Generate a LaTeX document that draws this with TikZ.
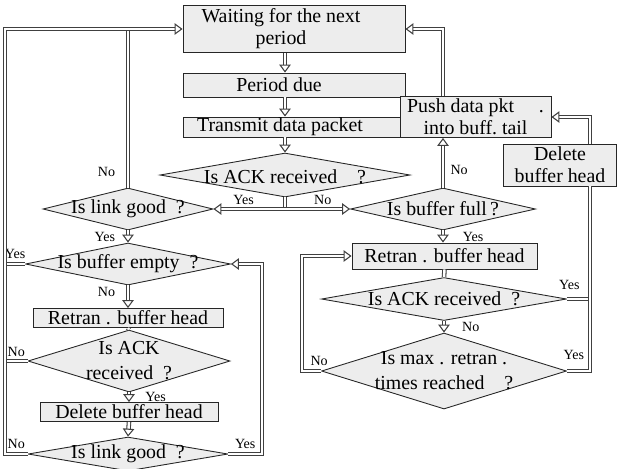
\documentclass[tikz,border=0pt]{standalone}
\usepackage{fontspec}
\setmainfont{Liberation Serif}
\usetikzlibrary{arrows.meta, positioning, shapes.geometric, calc}

\newcommand{\pxu}{0.02cm}
\newcommand{\boxfont}{\fontsize{11.3}{12.6}\selectfont}
\newcommand{\labfont}{\fontsize{8}{9}\selectfont}

\begin{document}
\begin{tikzpicture}[
  x=0.02cm, y=-0.02cm,
  >={Triangle[fill=white, line width=0.6pt, length=4.5pt, width=6.5pt]},
  box/.style={rectangle, draw=black!85, fill=black!7, line width=0.5pt,
              inner sep=0pt, font=\boxfont, align=center},
  dec/.style={diamond, draw=black!85, fill=black!7, line width=0.5pt,
              inner sep=0pt},
  txt/.style={font=\boxfont, align=center, inner sep=0pt},
  conn/.style={draw=black!75, line width=0.6pt, double=white,
               double distance=1.4pt, ->},
  link/.style={conn, -},
  lab/.style={font=\labfont, inner sep=1pt}
]
\useasboundingbox (0,0) rectangle (617,468);

% main loop
\node[box, minimum width=222*\pxu, minimum height=47*\pxu,
      label={[txt, xshift=-13*\pxu]center:{Waiting for the next\\period}}] (wait) at (294,29) {};
\node[box, minimum width=222*\pxu, minimum height=24*\pxu,
      label={[txt, xshift=-15*\pxu]center:Period due}] (due) at (294,85) {};
\node[box, minimum width=222*\pxu, minimum height=20*\pxu,
      label={[txt, xshift=-14*\pxu]center:Transmit data packet}] (send) at (294,127) {};
\node[dec, minimum width=250*\pxu, minimum height=44*\pxu,
      label={[txt, yshift=-2*\pxu]center:Is ACK received\quad ?}] (ackA) at (285,175) {};

% left branch
\node[dec, minimum width=170*\pxu, minimum height=42*\pxu,
      label={[txt]center:Is link good\ \ ?}] (goodA) at (128,209) {};
\node[dec, minimum width=205*\pxu, minimum height=42*\pxu,
      label={[txt]center:Is buffer empty\ \ ?}] (empty) at (128,264) {};
\node[box, minimum width=190*\pxu, minimum height=19*\pxu] (retL) at (128,318) {Retran . buffer head};
\node[dec, minimum width=202*\pxu, minimum height=62*\pxu,
      label={[txt, font=\fontsize{11.3}{14.2}\selectfont]center:{Is ACK\\received\ \ ?}}] (ackL) at (129,361) {};
\node[box, minimum width=178*\pxu, minimum height=19*\pxu] (delL) at (129,412) {Delete buffer head};
\node[dec, minimum width=200*\pxu, minimum height=34*\pxu,
      label={[txt]center:Is link good\ \ ?}] (goodB) at (128,454) {};

% right branch
\node[dec, minimum width=185*\pxu, minimum height=42*\pxu,
      label={[txt]center:Is buffer full\,?}] (full) at (443,209) {};
\node[box, minimum width=151*\pxu, minimum height=41*\pxu] (push) at (475.5,117) {Push data pkt\quad\ .\\into buff.\ tail};
\node[box, minimum width=113*\pxu, minimum height=42*\pxu] (delR) at (560,165) {Delete\\buffer head};
\node[box, minimum width=185*\pxu, minimum height=26*\pxu] (retR) at (444.5,256) {Retran . buffer head};
\node[dec, minimum width=245*\pxu, minimum height=43*\pxu,
      label={[txt]center:Is ACK received\ \ ?}] (ackR) at (444,299) {};
\node[dec, minimum width=245*\pxu, minimum height=76*\pxu,
      label={[txt, font=\fontsize{11.3}{14.2}\selectfont]center:{Is max . retran .\\times reached\quad ?}}] (maxR) at (444,371) {};

\coordinate (lft) at (5,0);
\coordinate (mid) at (262,0);
\coordinate (inR) at (302,0);
\coordinate (rgt) at (590,0);

% connectors
\draw[conn] (wait.south -| ackA) -- (due.north -| ackA);
\draw[conn] (due.south -| ackA) -- (send.north -| ackA);
\draw[conn] (send.south -| ackA) -- (ackA.north);
\draw[link] (ackA.south) -- (ackA.south |- goodA.east);
\draw[conn, <->] (goodA.east) -- node[lab, above=1pt, pos=0.22] {Yes}
  node[lab, above=1pt, pos=0.8] {No} (full.west);

\draw[link] (empty.west) -- node[lab, above=2pt] {Yes} (empty.west -| lft);
\draw[link] (ackL.west) -- node[lab, above=1pt] {No} (ackL.west -| lft);
\draw[link] (goodA.north) -- node[lab, left=6pt, pos=0.1] {No} (goodA.north |- wait.west);
\draw[conn] (goodB.west) -- node[lab, above=2pt] {No} (goodB.west -| lft)
  -- (wait.west -| lft) -- (wait.west);
\draw[conn] (goodB.east) -- node[lab, above=2pt] {Yes} (goodB.east -| mid)
  -- (empty.east -| mid) -- (empty.east);

\draw[conn] (goodA.south) -- node[lab, left=6pt] {Yes} (empty.north);
\draw[conn] (empty.south) -- node[lab, left=6pt, pos=0.3] {No} (retL.north);
\draw[link] (retL.south) -- (ackL.north);
\draw[conn] (ackL.south) -- node[lab, right=8pt] {Yes} (delL.north);
\draw[conn] (delL.south) -- (goodB.north);

\draw[conn] (full.north) -- node[lab, right=3pt, pos=0.35] {No} (full.north |- push.south);
\draw[conn] (full.north |- push.north) |- (wait.east);
\draw[conn] (full.south) -- node[lab, right=10pt] {Yes} (full.south |- retR.north);
\draw[link] (retR.south) -- (ackR.north);
\draw[conn] (ackR.south) -- node[lab, right=9pt] {No} (maxR.north);
\draw[conn] (maxR.west) -- node[lab, above=2pt, pos=0.1] {No} (maxR.west -| inR) |- (retR.west);
\draw[link] (ackR.east) -- node[lab, above=4pt, pos=0.1] {Yes} (ackR.east -| rgt);
\draw[link] (maxR.east) -- node[lab, above=5pt, pos=0.3] {Yes} (maxR.east -| rgt)
  -- (delR.south -| rgt);
\draw[conn] (delR.north -| rgt) |- (push.east);
\end{tikzpicture}
\end{document}
